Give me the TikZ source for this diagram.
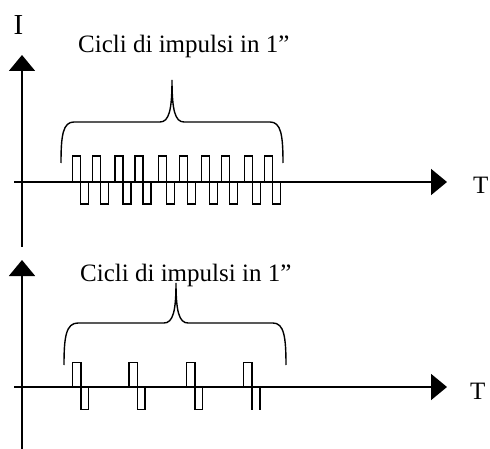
\documentclass[tikz,border=0pt]{standalone}
\usepackage{fontspec}
\setmainfont{Liberation Serif}
\usetikzlibrary{arrows.meta}
\begin{document}
\begin{tikzpicture}[x=1pt,y=-1pt,
  axis/.style={line width=1.8pt,-{Triangle[length=16pt,width=26pt]}},
  pulse/.style={line width=1.5pt,line join=miter},
  brace/.style={line width=1.4pt},
  lbl/.style={inner sep=0pt,font=\fontsize{25}{28}\selectfont},
  axlbl/.style={inner sep=0pt,font=\fontsize{25}{28}\selectfont}]
\useasboundingbox (0,0) rectangle (490,449);
% ---- top panel ----
\coordinate (v1s) at (22,247);
\coordinate (v1e) at (22,55);
\coordinate (h1s) at (14,182);
\coordinate (h1e) at (447,182);
\draw[axis] (v1s) -- (v1e);
\draw[axis] (h1s) -- (h1e);
\node[inner sep=0pt,anchor=base,font=\fontsize{29}{32}\selectfont] (ilab) at (18.5,35) {I};
\node[axlbl,anchor=base west] (t1) at (473,194) {T};
\node[lbl,anchor=base west] (c1) at (78,53) {Cicli di impulsi in 1”};
\draw[brace] (61,163) .. controls (61,135) and (63,122) .. (74,122)
  -- (160,122) .. controls (169,122) and (172,110) .. (172,80)
  .. controls (172,110) and (175,122) .. (184,122)
  -- (270,122) .. controls (281,122) and (283,135) .. (283,163);
\foreach \x in {72.7,92.7,115,135,158.3,179.3,201.7,221.7,244.3,264.3}{
  \draw[pulse] (\x,182) -- (\x,156) -- (\x+8,156) -- (\x+8,204) -- (\x+16,204) -- (\x+16,182);
}
% ---- bottom panel ----
\coordinate (v2s) at (22,449);
\coordinate (v2e) at (22,260);
\coordinate (h2s) at (14,387);
\coordinate (h2e) at (447,387);
\draw[axis] (v2s) -- (v2e);
\draw[axis] (h2s) -- (h2e);
\node[axlbl,anchor=base west] (t2) at (470,399) {T};
\node[lbl,anchor=base west] (c2) at (80,281) {Cicli di impulsi in 1”};
\draw[brace] (64,365) .. controls (64,337) and (66,323) .. (78,323)
  -- (164,323) .. controls (173,323) and (176,311) .. (176,283)
  .. controls (176,311) and (179,323) .. (188,323)
  -- (273,323) .. controls (284,323) and (286,337) .. (286,365);
\foreach \x in {72.7,129,186.7}{
  \draw[pulse] (\x,387) -- (\x,362.5) -- (\x+8.3,362.5) -- (\x+8.3,409.5) -- (\x+16,409.5) -- (\x+16,387);
}
\draw[pulse] (243.5,387) -- (243.5,362.5) -- (251.8,362.5) -- (251.8,410);
\draw[pulse] (260,387) -- (260,410);
\end{tikzpicture}
\end{document}
